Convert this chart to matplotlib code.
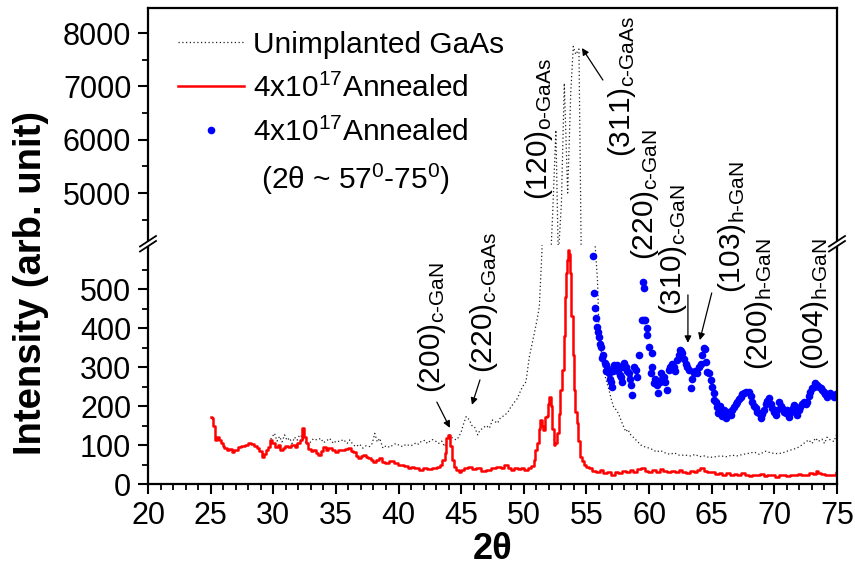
import numpy as np
import matplotlib
matplotlib.use('Agg')
import matplotlib.pyplot as plt
from matplotlib.lines import Line2D
from matplotlib.patches import Polygon
from matplotlib.ticker import MultipleLocator, FixedLocator

plt.rcParams['font.family'] = ['Liberation Sans', 'DejaVu Sans']
plt.rcParams['mathtext.fontset'] = 'custom'
plt.rcParams['mathtext.rm'] = 'Liberation Sans'
plt.rcParams['mathtext.it'] = 'Liberation Sans:italic'
plt.rcParams['mathtext.bf'] = 'Liberation Sans:bold'

# ---------------- data ----------------
red_x = [
    25.0, 25.15, 25.3, 25.45, 25.6, 25.75, 25.9, 26.0, 26.2, 26.4,
    26.6, 26.8, 27.0, 27.3, 27.6, 27.9, 28.1, 28.4, 28.6, 28.8,
    29.0, 29.15, 29.3, 29.5, 29.7, 29.85, 30.0, 30.25, 30.45, 30.65,
    30.85, 31.05, 31.3, 31.6, 31.8, 32.0, 32.25, 32.4, 32.5, 32.65,
    32.9, 33.1, 33.3, 33.5, 33.7, 33.9, 34.1, 34.3, 34.5, 34.8,
    35.0, 35.3, 35.6, 35.8, 36.1, 36.3, 36.5, 36.7, 36.9, 37.1,
    37.3, 37.5, 37.7, 37.9, 38.1, 38.3, 38.5, 38.8, 39.1, 39.4,
    39.8, 40.1, 40.3, 40.6, 40.9, 41.1, 41.4, 41.8, 42.1, 42.5,
    42.8, 43.0, 43.2, 43.4, 43.6, 43.75, 43.9, 44.05, 44.2, 44.35,
    44.5, 44.7, 44.9, 45.1, 45.4, 45.7, 46.0, 46.4, 46.8, 47.2,
    47.6, 48.0, 48.3, 48.6, 48.9, 49.1, 49.4, 49.7, 49.9, 50.2,
    50.45, 50.7, 50.85, 51.0, 51.1, 51.25, 51.37, 51.5, 51.63, 51.75,
    51.9, 52.0, 52.1, 52.2, 52.3, 52.45, 52.56, 52.7, 52.85, 53.0,
    53.15, 53.25, 53.36, 53.45, 53.52, 53.6, 53.68, 53.75, 53.85, 53.95,
    54.05, 54.15, 54.27, 54.4, 54.55, 54.7, 54.9, 55.1, 55.3, 55.6,
    55.9, 56.2, 56.5, 56.8, 57.1, 57.4, 57.7, 58.0, 58.3, 58.6,
    58.9, 59.2, 59.5, 59.8, 60.1, 60.4, 60.7, 61.0, 61.3, 61.6,
    61.9, 62.2, 62.5, 62.8, 63.1, 63.4, 63.7, 64.0, 64.2, 64.5,
    64.8, 65.1, 65.4, 65.7, 66.0, 66.3, 66.6, 66.9, 67.2, 67.5,
    67.8, 68.1, 68.4, 68.7, 69.0, 69.3, 69.6, 69.9, 70.2, 70.5,
    70.8, 71.1, 71.4, 71.7, 72.0, 72.3, 72.6, 72.9, 73.2, 73.4,
    73.6, 73.9, 74.2, 74.5, 74.8, 75.0]
red_y = [
    172, 168, 150, 112, 120, 112, 104, 98, 92, 86,
    90, 82, 88, 94, 98, 100, 104, 102, 98, 92,
    84, 70, 78, 86, 96, 112, 104, 94, 100, 86,
    92, 98, 94, 100, 96, 106, 112, 143, 120, 106,
    90, 84, 88, 80, 74, 84, 96, 88, 92, 86,
    82, 88, 86, 90, 92, 84, 82, 72, 66, 72,
    74, 70, 66, 62, 57, 62, 66, 56, 54, 58,
    53, 48, 50, 46, 42, 44, 40, 36, 40, 38,
    42, 40, 44, 50, 62, 80, 118, 126, 98, 62,
    44, 36, 32, 36, 40, 44, 38, 40, 34, 36,
    42, 44, 40, 48, 40, 36, 42, 38, 40, 36,
    40, 46, 62, 88, 105, 140, 164, 150, 138, 172,
    175, 205, 224, 200, 140, 100, 104, 130, 180, 240,
    292, 380, 480, 540, 575, 600, 590, 540, 430, 330,
    240, 185, 156, 110, 70, 60, 48, 44, 40, 34,
    30, 36, 28, 32, 24, 30, 28, 34, 30, 36,
    32, 38, 40, 34, 30, 36, 32, 38, 34, 30,
    34, 30, 36, 32, 28, 34, 30, 36, 40, 34,
    30, 32, 26, 28, 24, 28, 22, 26, 24, 28,
    22, 20, 24, 22, 26, 20, 24, 22, 18, 22,
    24, 20, 24, 22, 26, 22, 24, 28, 26, 34,
    28, 26, 24, 22, 24, 30]

gaas_x = [
    29.8, 30.1, 30.3, 30.5, 30.7, 30.9, 31.1, 31.3, 31.5, 31.7,
    31.9, 32.1, 32.3, 32.5, 32.8, 33.0, 33.2, 33.5, 33.8, 34.0,
    34.3, 34.5, 34.8, 35.0, 35.3, 35.6, 35.9, 36.1, 36.4, 36.6,
    36.9, 37.15, 37.4, 37.7, 37.9, 38.1, 38.3, 38.5, 38.75, 39.0,
    39.3, 39.55, 39.8, 40.1, 40.34, 40.6, 40.9, 41.14, 41.4, 41.6,
    41.8, 42.1, 42.3, 42.47, 42.7, 43.0, 43.2, 43.45, 43.67, 43.9,
    44.06, 44.3, 44.6, 44.8, 45.0, 45.2, 45.4, 45.66, 45.85, 46.06,
    46.32, 46.5, 46.72, 47.0, 47.25, 47.5, 47.7, 47.9, 48.1, 48.3,
    48.5, 48.7, 48.9, 49.1, 49.3, 49.5, 49.7, 49.9, 50.17, 50.44,
    50.6, 50.84, 51.05, 51.24, 51.45, 51.9, 52.3, 52.56, 52.75, 53.0,
    53.23, 53.5, 53.75, 53.95, 54.15, 54.4, 54.6, 54.9, 55.3, 55.75,
    55.88, 56.0, 56.28, 56.5, 56.8, 57.0, 57.2, 57.4, 57.6, 57.85,
    58.14, 58.3, 58.54, 58.8, 59.1, 59.34, 59.6, 60.0, 60.3, 60.6,
    60.9, 61.33, 61.7, 62.0, 62.4, 62.9, 63.3, 63.7, 64.0, 64.4,
    64.8, 65.3, 65.7, 66.2, 66.6, 67.0, 67.5, 68.0, 68.4, 68.8,
    69.3, 69.7, 70.1, 70.6, 71.0, 71.4, 71.8, 72.2, 72.5, 72.75,
    73.0, 73.3, 73.5, 73.8, 74.0, 74.2, 74.5, 74.75, 75.0]
gaas_y = [
    115, 130, 110, 122, 108, 126, 112, 118, 104, 120,
    112, 126, 121, 110, 100, 109, 116, 113, 117, 106,
    112, 117, 104, 110, 109, 114, 104, 113, 100, 96,
    102, 92, 98, 96, 104, 130, 108, 117, 92, 98,
    94, 100, 104, 98, 96, 102, 98, 100, 106, 102,
    109, 112, 104, 109, 114, 109, 104, 110, 96, 112,
    126, 118, 113, 120, 134, 155, 173, 164, 150, 147,
    126, 138, 143, 150, 143, 164, 160, 156, 168, 173,
    178, 182, 194, 203, 212, 220, 236, 250, 262, 326,
    350, 387, 420, 455, 600, 2500, 4600, 6180, 3800, 4800,
    7060, 5000, 6900, 7750, 7600, 7700, 3500, 1500, 800, 583,
    523, 395, 310, 275, 241, 215, 195, 190, 177, 156,
    134, 140, 126, 118, 108, 100, 96, 92, 88, 82,
    86, 79, 76, 80, 74, 74, 72, 76, 70, 72,
    68, 70, 72, 70, 74, 72, 76, 79, 82, 76,
    84, 80, 78, 79, 84, 88, 92, 100, 108, 113,
    104, 118, 109, 115, 104, 120, 112, 109, 130]

blue_x = [
    55.54, 55.62, 55.7, 55.8, 55.88, 55.95, 56.0, 56.1, 56.2, 56.28,
    56.35, 56.45, 56.55, 56.6, 56.7, 56.8, 56.87, 56.95, 57.05, 57.1,
    57.2, 57.3, 57.47, 57.55, 57.65, 57.74, 57.8, 57.9, 58.0, 58.14,
    58.25, 58.4, 58.45, 58.54, 58.67, 58.8, 58.94, 59.05, 59.2, 59.47,
    59.52, 59.6, 59.6, 59.7, 59.8, 59.87, 60.0, 60.13, 60.2, 60.27,
    60.4, 60.5, 60.66, 60.75, 60.85, 60.93, 61.05, 61.2, 61.3, 61.46,
    61.6, 61.7, 61.86, 62.0, 62.1, 62.26, 62.35, 62.47, 62.55, 62.65,
    62.8, 62.92, 63.05, 63.18, 63.32, 63.45, 63.58, 63.7, 63.85, 63.95,
    64.12, 64.25, 64.38, 64.45, 64.52, 64.65, 64.78, 64.92, 65.05, 65.18,
    65.18, 65.31, 65.45, 65.5, 65.58, 65.7, 65.85, 65.98, 66.1, 66.2,
    66.35, 66.5, 66.6, 66.77, 66.9, 67.03, 67.15, 67.3, 67.45, 67.57,
    67.75, 67.97, 68.1, 68.23, 68.35, 68.5, 68.6, 68.76, 68.9, 69.05,
    69.16, 69.3, 69.45, 69.56, 69.7, 69.82, 69.95, 70.1, 70.2, 70.36,
    70.5, 70.62, 70.75, 70.9, 71.0, 71.16, 71.3, 71.45, 71.55, 71.7,
    71.82, 71.95, 72.08, 72.2, 72.35, 72.5, 72.6, 72.75, 72.88, 73.0,
    73.15, 73.28, 73.42, 73.55, 73.7, 73.82, 73.94, 74.05, 74.2, 74.35,
    74.47, 74.6, 74.74, 74.9]
blue_y = [
    585, 490, 452, 425, 403, 390, 376, 360, 352, 322,
    330, 310, 305, 290, 296, 284, 270, 262, 250, 290,
    305, 300, 305, 290, 280, 275, 262, 300, 310, 301,
    290, 284, 270, 254, 228, 300, 292, 275, 331, 420,
    519, 502, 420, 420, 400, 382, 352, 284, 300, 335,
    258, 270, 254, 233, 262, 284, 270, 275, 262, 241,
    292, 300, 309, 301, 290, 318, 330, 344, 340, 335,
    320, 309, 300, 292, 245, 270, 284, 290, 284, 300,
    309, 330, 348, 345, 314, 288, 284, 267, 250, 233,
    215, 211, 198, 181, 185, 200, 175, 190, 168, 185,
    180, 177, 190, 198, 205, 211, 218, 224, 230, 233,
    237, 237, 225, 211, 200, 194, 185, 181, 168, 180,
    190, 205, 212, 220, 205, 194, 185, 177, 190, 211,
    200, 194, 185, 181, 190, 173, 185, 195, 203, 190,
    177, 190, 198, 205, 211, 205, 211, 225, 237, 245,
    250, 258, 255, 250, 245, 240, 237, 230, 224, 230,
    233, 228, 224, 230]

low_ticks = [0, 100, 200, 300, 400, 500]
up_ticks = [5000, 6000, 7000, 8000]

legend_labels = ['Unimplanted GaAs', '4x10$^{17}$Annealed',
                 '4x10$^{17}$Annealed', ' (2θ ~ 57$^{0}$-75$^{0}$)']

peak_hkl = ['(200)', '(220)', '(120)', '(311)', '(220)', '(310)', '(103)', '(200)', '(004)']
peak_phase = ['c-GaN', 'c-GaAs', 'o-GaAs', 'c-GaAs', 'c-GaN', 'c-GaN', 'h-GaN', 'h-GaN', 'h-GaN']

# ---------------- layout ----------------
W, H = 855, 569
L, R, T, B, BRK = 148, 837, 8, 484, 245
fig = plt.figure(figsize=(W / 100, H / 100), dpi=100)
ax_low = fig.add_axes([L / W, 1 - B / H, (R - L) / W, (B - BRK) / H])
ax_up = fig.add_axes([L / W, 1 - BRK / H, (R - L) / W, (BRK - T) / H])
for ax in (ax_low, ax_up):
    ax.patch.set_visible(False)

LOW_LIM = (0, 613)
UP_LIM = (4025, 8470)

dot_style = dict(color='#222222', lw=0.9, linestyle=(0, (1, 2)))
red_style = dict(color='#ff0000', lw=1.8, drawstyle='steps-mid')
blue_style = dict(color='#0000ff', marker='o', linestyle='none', ms=5.5, mec='none')

for ax in (ax_low, ax_up):
    ax.plot(gaas_x, gaas_y, **dot_style)
    ax.plot(red_x, red_y, **red_style)
    ax.plot(blue_x, blue_y, **blue_style)
    ax.set_xlim(20, 75)
    for s in ax.spines.values():
        s.set_linewidth(1.6)

ax_low.set_ylim(*LOW_LIM)
ax_up.set_ylim(*UP_LIM)
ax_low.spines['top'].set_visible(False)
ax_up.spines['bottom'].set_visible(False)

ax_low.xaxis.set_major_locator(MultipleLocator(5))
ax_low.xaxis.set_minor_locator(MultipleLocator(1))
ax_low.yaxis.set_major_locator(FixedLocator(low_ticks))
ax_low.yaxis.set_minor_locator(FixedLocator([50, 150, 250, 350, 450, 550]))
ax_up.yaxis.set_major_locator(FixedLocator(up_ticks))
ax_up.yaxis.set_minor_locator(FixedLocator([4500, 5500, 6500, 7500]))

for ax in (ax_low, ax_up):
    ax.tick_params(which='major', direction='out', length=7, width=1.5,
                   labelsize=22, pad=5, top=False, right=False)
    ax.tick_params(which='minor', direction='out', length=4, width=1.3,
                   top=False, right=False)
ax_up.tick_params(which='both', bottom=False, labelbottom=False)
ax_low.tick_params(axis='x', which='major', pad=5)

ax_low.set_xlabel('2θ', fontsize=26, fontweight='bold', labelpad=1)
fig.text(31 / W, 1 - 283 / H, 'Intensity (arb. unit)', rotation=90,
         fontsize=27.5, fontweight='bold', ha='center', va='center')

# legend
handles = [Line2D([], [], **dot_style),
           Line2D([], [], color='#ff0000', lw=1.8),
           Line2D([], [], **blue_style),
           Line2D([], [], color='none')]
ax_up.legend(handles, legend_labels, loc='upper left', bbox_to_anchor=(0.0435, 0.905),
             frameon=False, fontsize=21.5, handlelength=2.2, handletextpad=0.3,
             labelspacing=0.5, borderpad=0, borderaxespad=0, numpoints=1)

# peak labels: (axes, x, y)
label_pos = [(ax_low, 43.31, 233), (ax_low, 47.46, 285), (ax_up, 51.85, 4870),
             (ax_up, 58.48, 5680), (ax_low, 60.3, 574), (ax_low, 62.55, 433),
             (ax_low, 67.26, 490), (ax_low, 69.41, 292), (ax_low, 73.88, 292)]
for hkl, ph, (ax, x, y) in zip(peak_hkl, peak_phase, label_pos):
    ax.text(x, y, hkl + r'$_{\text{' + ph + '}}$', rotation=90, rotation_mode='anchor',
            ha='left', va='baseline', fontsize=21.5, clip_on=False, zorder=5)

arrow_kw = dict(arrowstyle='-|>', color='black', lw=0.9, mutation_scale=10,
                shrinkA=0, shrinkB=0)
arrows = [(ax_low, (43.06, 210), (44.1, 144)),
          (ax_low, (46.5, 267), (45.86, 203)),
          (ax_up, (56.31, 7119), (54.64, 7719)),
          (ax_low, (63.1, 485), (63.1, 362)),
          (ax_low, (65.0, 490), (64.05, 369))]
for ax, tail, head in arrows:
    ax.annotate('', xy=head, xytext=tail, arrowprops=arrow_kw, annotation_clip=False)

# axis break marks
def fx(px):
    return px / W

def fy(py):
    return 1 - py / H

for xb in (L, R):
    poly = Polygon([(fx(xb - 7), fy(BRK + 6)), (fx(xb + 7), fy(BRK - 3)),
                    (fx(xb + 7), fy(BRK - 8)), (fx(xb - 7), fy(BRK + 1))],
                   closed=True, transform=fig.transFigure, facecolor='white',
                   edgecolor='none', zorder=10)
    fig.add_artist(poly)
    for off in (0, 5):
        fig.add_artist(Line2D([fx(xb - 8), fx(xb + 8)],
                              [fy(BRK + 6 - off + 0.5), fy(BRK - 4 - off)],
                              transform=fig.transFigure, color='black', lw=1.3, zorder=11))

fig.savefig('out.png', dpi=100)
